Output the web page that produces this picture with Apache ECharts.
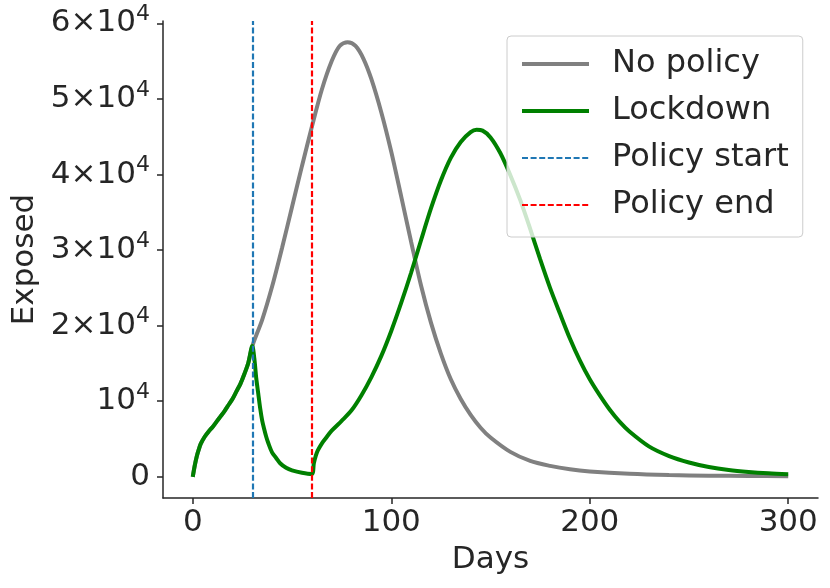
<!DOCTYPE html>
<html>
<head>
<meta charset="utf-8">
<script src="https://cdn.jsdelivr.net/npm/echarts@6/dist/echarts.min.js"></script>
<style>
html,body{margin:0;padding:0;background:#fff;}
#chart{width:830px;height:588px;}
</style>
</head>
<body>
<div id="chart"></div>
<script>
// ---- data ----
const noPolicyDays = [0,1,2,3,4,6,8,10,12,14,16,18,20,22,24,26,28,30,35,40,45,50,55,60,65,70,74,78,82,86,90,95,100,105,110,115,120,125,130,135,140,145,150,160,170,180,190,200,220,240,260,280,300];
const noPolicyExposed = [0,1500,2700,3600,4350,5300,6000,6600,7300,8000,8700,9500,10300,11300,12300,13600,15100,17300,20800,25200,30300,35700,41100,46300,51200,55000,57000,57500,57000,55300,52600,48200,43000,37100,31100,25300,20400,16300,12900,10300,8200,6500,5200,3300,2100,1450,1000,720,400,230,150,110,80];

const lockdownDays = [0,1,2,3,4,6,8,10,12,14,16,18,20,22,24,26,28,30,31,32,33,34,35,36,37,38,40,42,44,47,50,55,60,61,62,63,65,67,70,75,80,85,90,95,100,105,110,115,120,125,130,135,140,143,146,150,155,160,165,170,175,180,185,190,195,200,205,210,215,220,230,240,250,260,270,280,290,300];
const lockdownExposed = [0,1500,2700,3600,4350,5300,6000,6600,7300,8000,8700,9500,10300,11300,12300,13600,15100,17300,15700,13000,11000,9000,7400,6300,5300,4500,3200,2500,1800,1200,850,530,370,1800,2800,3500,4400,5100,6100,7400,8800,10800,13200,16000,19300,23000,27000,31300,35500,39200,42200,44300,45600,45900,45800,44900,42800,39900,36600,32800,28800,25000,21600,18300,15400,12900,10800,8900,7300,6000,4000,2750,1900,1300,900,640,460,340];

const policyDays = [30, 60];           // policy start, policy end
const xTickValues = [0, 100, 200, 300];
const yTickValues = [0, 10000, 20000, 30000, 40000, 50000, 60000];
const seriesNames = ['No policy', 'Lockdown', 'Policy start', 'Policy end'];

// ---- chart ----
const FONT = 'DejaVu Sans';
const TXT = '#262626';
const COLORS = ['#808080', '#008000', '#1f77b4', '#ff0000'];
const DASH = [6, 2.6];
const pair = (xs, ys) => xs.map((x, i) => [x, ys[i]]);

function yLabel(v) {
  if (v === 0) return '0';
  const m = Math.round(v / 10000);
  return (m === 1 ? '' : m + '×') + '10{sup|4}';
}

const chart = echarts.init(document.getElementById('chart'), null, {renderer: 'canvas'});
chart.setOption({
  animation: false,
  backgroundColor: '#ffffff',
  textStyle: {fontFamily: FONT},
  grid: {left: 163, right: 12, top: 21, bottom: 90, containLabel: false, outerBoundsMode: 'none'},
  xAxis: {
    type: 'value', min: -15, max: 315,
    name: 'Days', nameLocation: 'middle', nameGap: 46,
    nameTextStyle: {fontFamily: FONT, fontSize: 31, color: TXT},
    axisLine: {onZero: false, lineStyle: {color: TXT, width: 1.5}},
    axisTick: {show: true, length: 6, lineStyle: {color: TXT, width: 1.5}, customValues: xTickValues},
    axisLabel: {fontFamily: FONT, fontSize: 31, color: TXT, margin: 9, customValues: xTickValues},
    splitLine: {show: false}
  },
  yAxis: {
    type: 'value', min: -2800, max: 60300,
    name: 'Exposed', nameLocation: 'middle', nameGap: 121, nameRotate: 90,
    nameTextStyle: {fontFamily: FONT, fontSize: 31, color: TXT},
    axisLine: {show: true, onZero: false, lineStyle: {color: TXT, width: 1.5}},
    axisTick: {show: true, length: 6, lineStyle: {color: TXT, width: 1.5}, customValues: yTickValues},
    axisLabel: {
      fontFamily: FONT, fontSize: 31, color: TXT, margin: 13, lineHeight: 40,
      customValues: yTickValues,
      formatter: yLabel,
      rich: {sup: {fontFamily: FONT, fontSize: 22, color: TXT, lineHeight: 24, verticalAlign: 'top'}}
    },
    splitLine: {show: false}
  },
  legend: {
    orient: 'vertical', left: 507, top: 36,
    data: [
      {name: seriesNames[0], lineStyle: {width: 4, color: COLORS[0]}},
      {name: seriesNames[1], lineStyle: {width: 4, color: COLORS[1]}},
      {name: seriesNames[2], lineStyle: {width: 2.2, color: COLORS[2], type: DASH}},
      {name: seriesNames[3], lineStyle: {width: 2.2, color: COLORS[3], type: DASH}}
    ],
    itemWidth: 67, itemHeight: 14, itemGap: 11,
    padding: [10, 14, 14, 13],
    backgroundColor: 'rgba(255,255,255,0.8)',
    borderColor: '#cccccc', borderWidth: 1, borderRadius: 4,
    selectedMode: false,
    itemStyle: {opacity: 0},
    textStyle: {fontFamily: FONT, fontSize: 32, color: TXT, lineHeight: 36, padding: [0, 0, 0, 18]}
  },
  series: [
    {
      name: seriesNames[0], type: 'line', data: pair(noPolicyDays, noPolicyExposed),
      showSymbol: false, symbol: 'none', smooth: 0.3,
      color: COLORS[0], lineStyle: {color: COLORS[0], width: 4}, z: 2
    },
    {
      name: seriesNames[1], type: 'line', data: pair(lockdownDays, lockdownExposed),
      showSymbol: false, symbol: 'none', smooth: 0.3,
      color: COLORS[1], lineStyle: {color: COLORS[1], width: 4}, z: 3
    },
    {
      name: seriesNames[2], type: 'line', data: [], symbol: 'none', z: 4,
      color: COLORS[2], lineStyle: {color: COLORS[2], width: 2.2, type: DASH},
      markLine: {
        silent: true, symbol: 'none', label: {show: false},
        lineStyle: {color: COLORS[2], width: 2.2, type: DASH},
        data: [{xAxis: policyDays[0]}]
      }
    },
    {
      name: seriesNames[3], type: 'line', data: [], symbol: 'none', z: 4,
      color: COLORS[3], lineStyle: {color: COLORS[3], width: 2.2, type: DASH},
      markLine: {
        silent: true, symbol: 'none', label: {show: false},
        lineStyle: {color: COLORS[3], width: 2.2, type: DASH},
        data: [{xAxis: policyDays[1]}]
      }
    }
  ]
});
</script>
</body>
</html>
